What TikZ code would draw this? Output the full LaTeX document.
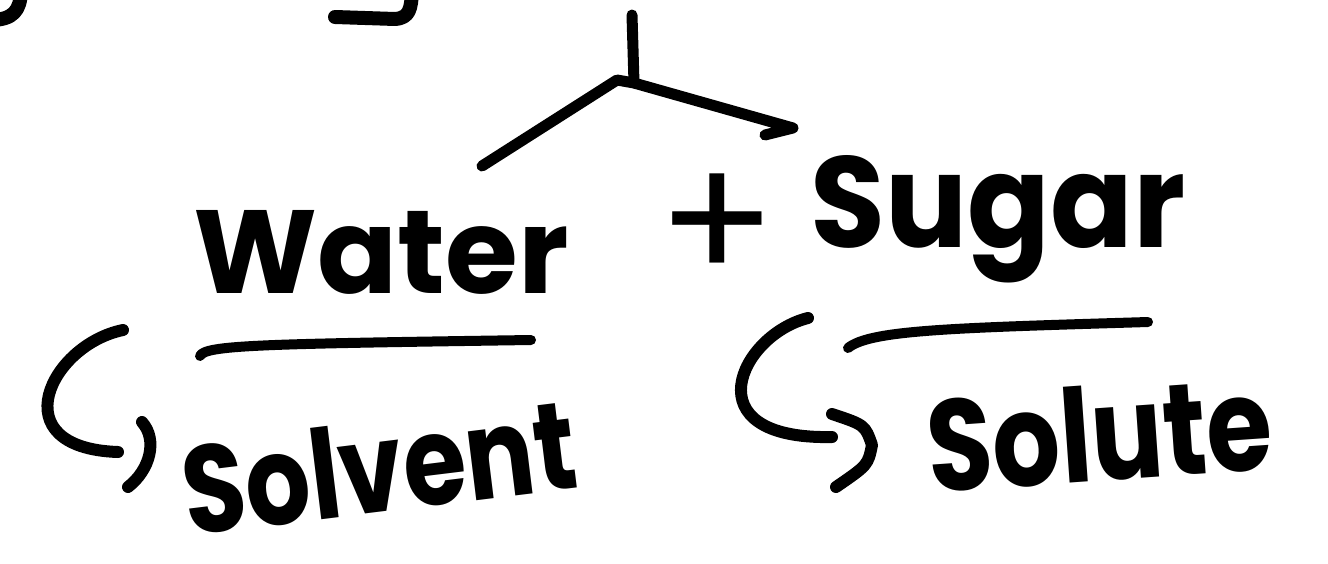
\documentclass[tikz,border=0pt]{standalone}
\usepackage{fontspec}
\setmainfont{Poppins}
\usepackage{graphicx}
\begin{document}
\begin{tikzpicture}[x=1pt,y=-1pt,
  ink/.style={line cap=round, line join=round, line width=12pt},
  thin ink/.style={ink, line width=10pt},
  word/.style={inner sep=0pt, anchor=base west}]
\useasboundingbox (0,0) rectangle (1328,563);
% words
\node[word] (water) at (193,293) {\resizebox{375pt}{83pt}{\bfseries Water}};
\node[word] (sugar) at (810,247) {\resizebox{375pt}{92pt}{\bfseries Sugar}};
\node[word, rotate=7] (solvent) at (188,536) {\resizebox{395pt}{92pt}{\bfseries Solvent}};
\node[word, rotate=4] (solute) at (930,493) {\resizebox{345pt}{96pt}{\bfseries Solute}};
\node[inner sep=0pt] (plus) at (717,228) {\fontsize{175}{175}\selectfont +};
% tree
\coordinate (top) at (632,15);
\coordinate (fork) at (634,83);
\coordinate (lfork) at (617,80);
\coordinate (lend) at (482,166);
\coordinate (rend) at (793,128);
\coordinate (rhook) at (765,135);
\draw[ink, line width=11pt] (top) -- (fork);
\draw[ink, line width=11pt] (lend) -- (lfork) -- (fork) -- (rend) -- (rhook);
% underlines
\coordinate (u1a) at (200,356);
\coordinate (u1b) at (531,340);
\coordinate (u2a) at (848,348);
\coordinate (u2b) at (1148,322);
\draw[thin ink] (u1a) .. controls (205,345) and (260,344) .. (u1b);
\draw[thin ink] (u2a) .. controls (870,330) and (950,328) .. (u2b);
% hook arrows
\coordinate (h1a) at (123,330);
\coordinate (h1b) at (118,452);
\coordinate (h1c) at (142,422);
\coordinate (h1d) at (128,487);
\draw[ink] (h1a) .. controls (50,345) and (0,448) .. (h1b);
\draw[ink] (h1c) .. controls (158,440) and (150,470) .. (h1d);
\coordinate (h2a) at (808,318);
\coordinate (h2b) at (832,437);
\coordinate (h2c) at (832,414);
\coordinate (h2d) at (872,445);
\coordinate (h2e) at (836,487);
\draw[ink] (h2a) .. controls (740,335) and (690,440) .. (h2b);
\draw[ink] (h2c) .. controls (865,425) .. (h2d) .. controls (868,465) .. (h2e);
% cut-off strokes at top edge
\coordinate (p1a) at (-10,20);
\coordinate (p1b) at (21,-8);
\coordinate (p2a) at (335,17);
\coordinate (p2b) at (395,19);
\coordinate (p2c) at (412,-8);
\draw[ink, line width=14pt] (p1a) .. controls (14,20) and (20,10) .. (p1b);
\draw[ink, line width=14pt] (p2a) -- (p2b) .. controls (410,18) and (411,8) .. (p2c);
\end{tikzpicture}
\end{document}
